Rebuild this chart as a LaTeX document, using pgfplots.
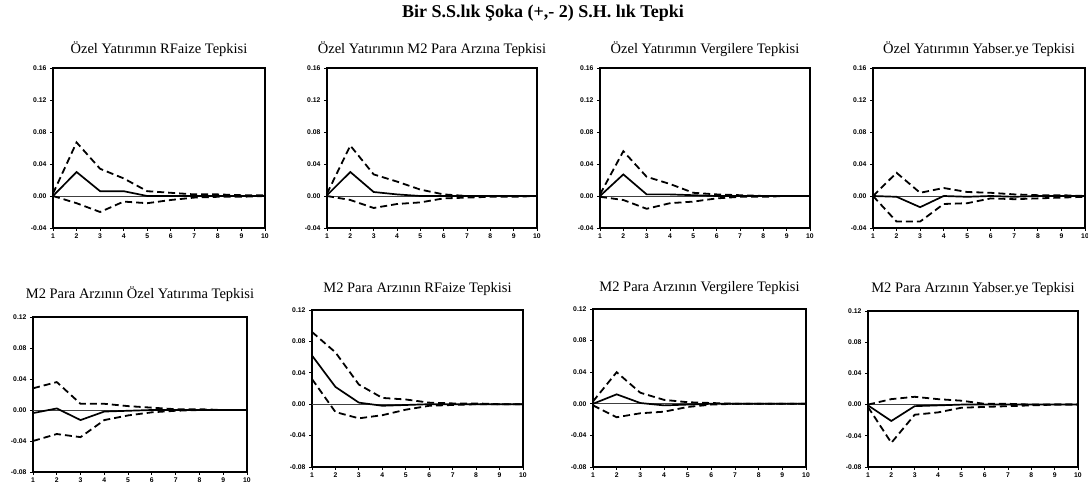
\documentclass[border=0pt]{standalone}
\usepackage{pgfplots}
\pgfplotsset{compat=1.18}
\usepackage{fontspec}
\setmainfont{Liberation Serif}
\setsansfont{Liberation Sans}

\pgfplotsset{
 irf/.style={
  scale only axis, anchor=south west,
  xmin=1, xmax=10, xtick={1,2,3,4,5,6,7,8,9,10},
  axis line style={line width=1.6pt},
  tick align=outside, xtick pos=bottom, ytick pos=left,
  major tick length=3pt,
  tick style={line width=0.9pt, black},
  ticklabel style={font=\fontsize{6.8}{7}\sffamily\bfseries},
  xticklabel style={yshift=1pt},
  /pgf/number format/assume math mode=true,
  y tick label style={/pgf/number format/fixed, /pgf/number format/fixed zerofill, /pgf/number format/precision=2},
  title style={font=\fontsize{14.5}{16}\selectfont, at={(0.5,1)}, anchor=center},
 },
 toprow/.style={irf, ymin=-0.04, ymax=0.16, ytick={-0.04,0,0.04,0.08,0.12,0.16}, height=160pt},
 botrow/.style={irf, ymin=-0.08, ymax=0.12, ytick={-0.08,-0.04,0,0.04,0.08,0.12}},
 resp/.style={black, line width=1.7pt, no marks},
 band/.style={black, line width=1.8pt, dash pattern=on 7pt off 4pt, no marks},
 zero/.style={black!75, line width=0.8pt, no marks},
}

\begin{document}
\begin{tikzpicture}
\useasboundingbox (0,0) rectangle (1088pt,495pt);
\node[font=\fontsize{18}{20}\selectfont\bfseries] at (543pt,482pt) {Bir S.S.lık Şoka (+,- 2) S.H. lık Tepki};

% Panel 1
\begin{axis}[toprow, at={(53pt,267pt)}, width=212pt, title={Özel Yatırımın RFaize Tepkisi}, title style={yshift=13pt}]
\addplot[zero] coordinates {(1,0) (10,0)};
\addplot[band] coordinates {(1,0.003) (2,0.067) (3,0.034) (4,0.022) (5,0.006) (6,0.004) (7,0.002) (8,0.002) (9,0.001) (10,0.001)};
\addplot[resp] coordinates {(1,0.0) (2,0.030) (3,0.006) (4,0.006) (5,0.0) (6,0.0) (7,0.0) (8,0.0) (9,0.0) (10,0.0)};
\addplot[band] coordinates {(1,0.0) (2,-0.009) (3,-0.020) (4,-0.007) (5,-0.009) (6,-0.005) (7,-0.002) (8,-0.001) (9,-0.001) (10,0.0)};
\end{axis}

% Panel 2
\begin{axis}[toprow, at={(327pt,267pt)}, width=210pt, title={Özel Yatırımın M2 Para Arzına Tepkisi}, title style={yshift=13pt}]
\addplot[zero] coordinates {(1,0) (10,0)};
\addplot[band] coordinates {(1,0.003) (2,0.063) (3,0.027) (4,0.018) (5,0.008) (6,0.002) (7,0.0) (8,0.0) (9,0.0) (10,0.0)};
\addplot[resp] coordinates {(1,0.001) (2,0.030) (3,0.005) (4,0.002) (5,0.0) (6,0.0) (7,0.0) (8,0.0) (9,0.0) (10,0.0)};
\addplot[band] coordinates {(1,0.0) (2,-0.005) (3,-0.015) (4,-0.010) (5,-0.008) (6,-0.003) (7,-0.002) (8,-0.001) (9,-0.001) (10,0.0)};
\end{axis}

% Panel 3
\begin{axis}[toprow, at={(600pt,267pt)}, width=210pt, title={Özel Yatırımın Vergilere Tepkisi}, title style={yshift=13pt}]
\addplot[zero] coordinates {(1,0) (10,0)};
\addplot[band] coordinates {(1,0.002) (2,0.056) (3,0.024) (4,0.015) (5,0.004) (6,0.002) (7,0.001) (8,0.0) (9,0.0) (10,0.0)};
\addplot[resp] coordinates {(1,0.0) (2,0.027) (3,0.002) (4,0.002) (5,0.001) (6,0.0) (7,0.0) (8,0.0) (9,0.0) (10,0.0)};
\addplot[band] coordinates {(1,-0.001) (2,-0.005) (3,-0.016) (4,-0.009) (5,-0.007) (6,-0.003) (7,-0.001) (8,-0.001) (9,0.0) (10,0.0)};
\end{axis}

% Panel 4
\begin{axis}[toprow, at={(873pt,267pt)}, width=212pt, title={Özel Yatırımın Yabser.ye Tepkisi}, title style={yshift=13pt}]
\addplot[zero] coordinates {(1,0) (10,0)};
\addplot[band] coordinates {(1,0.0) (2,0.029) (3,0.004) (4,0.010) (5,0.005) (6,0.004) (7,0.002) (8,0.001) (9,0.001) (10,0.0)};
\addplot[resp] coordinates {(1,0.0) (2,-0.001) (3,-0.014) (4,0.0) (5,-0.001) (6,0.0) (7,-0.001) (8,0.0) (9,0.0) (10,0.0)};
\addplot[band] coordinates {(1,0.0) (2,-0.032) (3,-0.032) (4,-0.010) (5,-0.009) (6,-0.003) (7,-0.004) (8,-0.003) (9,-0.002) (10,-0.001)};
\end{axis}

% Panel 5
\begin{axis}[botrow, at={(33pt,23pt)}, width=214pt, height=155pt, title={M2 Para Arzının Özel Yatırıma Tepkisi}, title style={yshift=17pt}]
\addplot[zero] coordinates {(1,0) (10,0)};
\addplot[band] coordinates {(1,0.028) (2,0.036) (3,0.008) (4,0.008) (5,0.005) (6,0.003) (7,0.001) (8,0.001) (9,0.0) (10,0.0)};
\addplot[resp] coordinates {(1,-0.004) (2,0.002) (3,-0.013) (4,-0.002) (5,-0.001) (6,0.0) (7,0.0) (8,0.0) (9,0.0) (10,0.0)};
\addplot[band] coordinates {(1,-0.040) (2,-0.031) (3,-0.035) (4,-0.013) (5,-0.007) (6,-0.003) (7,-0.001) (8,0.0) (9,0.0) (10,0.0)};
\end{axis}

% Panel 6
\begin{axis}[botrow, at={(312pt,28pt)}, width=211pt, height=157pt, title={M2 Para Arzının RFaize Tepkisi}, title style={yshift=15pt}]
\addplot[zero] coordinates {(1,0) (10,0)};
\addplot[band] coordinates {(1,0.092) (2,0.066) (3,0.025) (4,0.008) (5,0.006) (6,0.002) (7,0.001) (8,0.001) (9,0.0) (10,0.0)};
\addplot[resp] coordinates {(1,0.062) (2,0.022) (3,0.002) (4,-0.002) (5,-0.001) (6,0.0) (7,0.0) (8,0.0) (9,0.0) (10,0.0)};
\addplot[band] coordinates {(1,0.032) (2,-0.010) (3,-0.018) (4,-0.014) (5,-0.007) (6,-0.002) (7,-0.001) (8,0.0) (9,0.0) (10,0.0)};
\end{axis}

% Panel 7
\begin{axis}[botrow, at={(593pt,28pt)}, width=213pt, height=158pt, title={M2 Para Arzının Vergilere Tepkisi}, title style={yshift=15pt}]
\addplot[zero] coordinates {(1,0) (10,0)};
\addplot[band] coordinates {(1,0.003) (2,0.040) (3,0.014) (4,0.005) (5,0.002) (6,0.001) (7,0.0) (8,0.0) (9,0.0) (10,0.0)};
\addplot[resp] coordinates {(1,0.0) (2,0.012) (3,0.001) (4,-0.002) (5,-0.001) (6,0.0) (7,0.0) (8,0.0) (9,0.0) (10,0.0)};
\addplot[band] coordinates {(1,-0.002) (2,-0.017) (3,-0.012) (4,-0.010) (5,-0.004) (6,-0.001) (7,0.0) (8,0.0) (9,0.0) (10,0.0)};
\end{axis}

% Panel 8
\begin{axis}[botrow, at={(868pt,28pt)}, width=210pt, height=156pt, title={M2 Para Arzının Yabser.ye Tepkisi}, title style={yshift=16pt}]
\addplot[zero] coordinates {(1,0) (10,0)};
\addplot[band] coordinates {(1,0.0) (2,0.007) (3,0.010) (4,0.007) (5,0.005) (6,0.001) (7,0.001) (8,0.0) (9,0.0) (10,0.0)};
\addplot[resp] coordinates {(1,-0.001) (2,-0.021) (3,-0.002) (4,-0.001) (5,0.0) (6,0.0) (7,0.0) (8,0.0) (9,0.0) (10,0.0)};
\addplot[band] coordinates {(1,-0.003) (2,-0.049) (3,-0.013) (4,-0.010) (5,-0.004) (6,-0.003) (7,-0.002) (8,-0.001) (9,0.0) (10,0.0)};
\end{axis}
\end{tikzpicture}
\end{document}
